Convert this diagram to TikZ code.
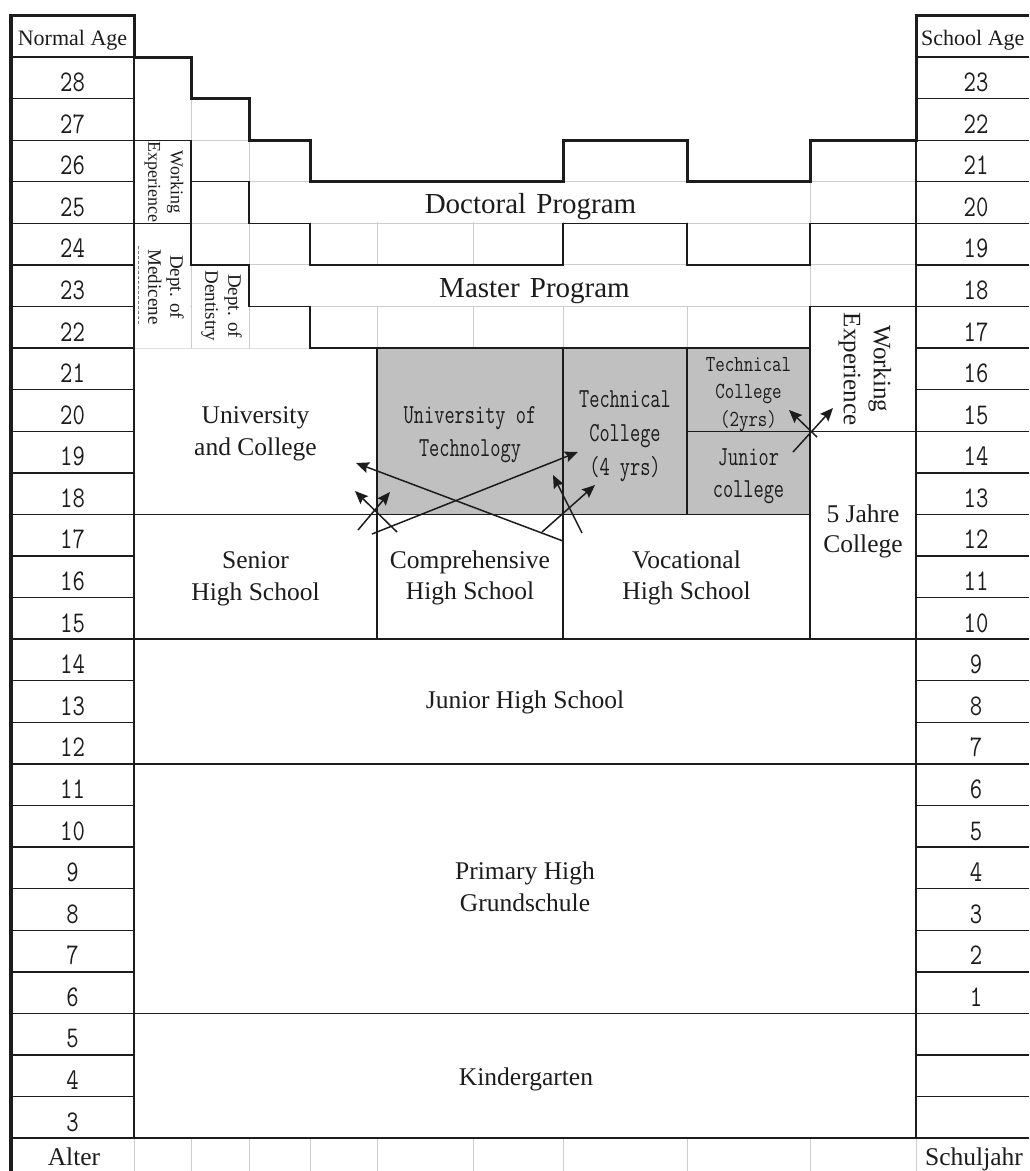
\documentclass[tikz,border=0pt]{standalone}
\usepackage{fontspec}
\setmainfont{Liberation Serif}
\newfontfamily\digitfont[FakeStretch=0.8]{Latin Modern Mono}
\newfontfamily\boxfont[FakeStretch=0.72]{Latin Modern Mono}
\newfontfamily\smallboxfont[FakeStretch=0.8]{Latin Modern Mono}
\usetikzlibrary{arrows.meta}
\definecolor{shadegray}{RGB}{192,192,192}
\definecolor{gridgray}{RGB}{205,205,205}
\definecolor{ink}{RGB}{28,28,28}
\begin{document}
\begin{tikzpicture}[x=1pt,y=-1pt,
  every node/.style={inner sep=0pt, text=ink},
  gridline/.style={draw=gridgray, line width=0.9pt},
  darkline/.style={draw=ink, line width=1.4pt},
  boldline/.style={draw=ink, line width=3pt},
  agenum/.style={anchor=base, font=\digitfont\fontsize{30}{30}\selectfont},
  seriftext/.style={anchor=base, font=\fontsize{25.5}{30}\selectfont},
  headtext/.style={font=\fontsize{22}{24}\selectfont},
  progtext/.style={anchor=base, font=\fontsize{29}{32}\selectfont},
  monotext/.style={anchor=base, font=\boxfont\fontsize{27.5}{32}\selectfont},
  smallmono/.style={anchor=base, font=\smallboxfont\fontsize{23}{28}\selectfont},
  vertlabel/.style={rotate=-90, align=center},
  crossarrow/.style={draw=ink, line width=1.5pt, -{Stealth[length=13pt,width=11pt,inset=2pt]}}
]
\useasboundingbox (0,0) rectangle (1029,1171);
\def\rowys{57,98.6,140.2,181.7,223.3,264.9,306.5,348.1,389.6,431.2,472.8,514.4,556,597.5,639.1,680.7,722.3,763.9,805.4,847,888.6,930.2,971.8,1013.3,1054.9,1096.5,1138.1}

% shaded technical area
\fill[shadegray] (377,348.1) rectangle (810,514.4);

% light grid in the graduate region, below the staircase
\begin{scope}
  \clip (134,57) -- (191,57) -- (191,98.6) -- (249,98.6) -- (249,140.2) -- (310,140.2)
        -- (310,181.7) -- (563,181.7) -- (563,140.2) -- (687,140.2) -- (687,181.7)
        -- (810,181.7) -- (810,140.2) -- (916,140.2) -- (916,348.6) -- (134,348.6) -- cycle;
  \foreach \xx in {134,191,249,310,377,473,563,687,810,916}
    \draw[gridline] (\xx,50) -- (\xx,348.6);
  \foreach \yy in {57,98.6,140.2,181.7,223.3,264.9,306.5,348.1}
    \draw[gridline] (130,\yy) -- (920,\yy);
\end{scope}
% merged cells (no inner grid)
\fill[white] (135,58) rectangle (190,139.2);
\fill[white] (135,141.2) rectangle (190,222.3);
\fill[white] (135,224.3) rectangle (190,347.1);
\fill[white] (192,265.9) rectangle (248,347.1);
\fill[white] (250,182.7) rectangle (809,222.3);
\fill[white] (250,265.9) rectangle (809,305.5);
\fill[white] (811,307.5) rectangle (915,348.6);

% light grid in the bottom row
\foreach \xx in {134,191,249,310,377,473,563,687,810,916}
  \draw[gridline] (\xx,1138.1) -- (\xx,1171);

% dark lines
\draw[darkline] (134,140.2) -- (191,140.2) -- (191,181.7) -- (249,181.7) -- (249,223.3)
  -- (310,223.3) -- (310,264.9) -- (563,264.9) -- (563,223.3) -- (687,223.3) -- (687,264.9)
  -- (810,264.9) -- (810,223.3) -- (916,223.3);
\draw[darkline] (191,181.7) -- (191,223.3);
\draw[darkline] (134,223.3) -- (191,223.3) -- (191,264.9) -- (249,264.9) -- (249,306.5)
  -- (310,306.5) -- (310,348.1) -- (810,348.1) -- (810,306.5) -- (916,306.5);
\draw[darkline] (377,348.1) -- (377,639.1);
\draw[darkline] (563,348.1) -- (563,639.1);
\draw[darkline] (687,348.1) -- (687,514.4);
\draw[darkline] (687,431.2) -- (916,431.2);
\draw[darkline] (810,306.5) -- (810,639.1);
\draw[darkline] (134,514.4) -- (810,514.4);
\draw[darkline] (134,639.1) -- (916,639.1);
\draw[darkline] (134,763.9) -- (916,763.9);
\draw[darkline] (134,1013.3) -- (916,1013.3);
\draw[darkline] (11,1138.1) -- (1029,1138.1);
\draw[darkline] (134,57) -- (134,1138.1);
\draw[darkline] (916,140) -- (916,1138.1);
\foreach \yy in \rowys {
  \draw[darkline] (11,\yy) -- (134,\yy);
  \draw[darkline] (916,\yy) -- (1029,\yy);
}

% bold outlines
\draw[boldline] (134,57) -- (191,57) -- (191,98.6) -- (249,98.6) -- (249,140.2) -- (310,140.2)
  -- (310,181.7) -- (563,181.7) -- (563,140.2) -- (687,140.2) -- (687,181.7)
  -- (810,181.7) -- (810,140.2) -- (916,140.2) -- (916,15) -- (1029,15);
\draw[boldline] (11,15) -- (134,15) -- (134,57);
\draw[draw=ink, line width=4pt] (11,13.5) -- (11,1171);

% small dashed mark left of "Medicene"
\draw[draw=gridgray!60!black, line width=0.6pt, dash pattern=on 3pt off 2pt] (138,246) -- (138,325);

% age columns
\foreach \k in {0,...,25} {
  \pgfmathsetmacro\yb{57+41.58*(\k+1)-7}
  \pgfmathtruncatemacro\age{28-\k}
  \node[agenum] (age\k) at (72.5,\yb) {\age};
  \ifnum\k<23
    \pgfmathtruncatemacro\sage{23-\k}
    \node[agenum] (sch\k) at (976,\yb) {\sage};
  \fi
}

% headers
\node[headtext, anchor=base] (normalage) at (72.5,45) {Normal Age};
\node[headtext, anchor=base west] (schoolage) at (921,45) {School Age};
\node[seriftext] (alter) at (74,1165) {Alter};
\node[seriftext, anchor=base west] (schuljahr) at (925,1165) {Schuljahr};

% programs
\node[progtext] (doctoral) at (530.5,213) {Doctoral\hspace{0.35em}Program};
\node[progtext] (master) at (534.5,297) {Master\hspace{0.35em}Program};

% vertical labels
\node[vertlabel, font=\fontsize{18}{22.5}\selectfont] (workexpA) at (164,182) {Working\\Experience};
\node[vertlabel, font=\fontsize{19}{22}\selectfont] (medicine) at (166,287) {Dept. of\\Medicene};
\node[vertlabel, font=\fontsize{19}{23}\selectfont] (dentistry) at (221.5,306) {Dept. of\\Dentistry};
\node[vertlabel, font=\fontsize{25}{30}\selectfont] (workexpB) at (865,369) {Working\\Experience};

% serif labels
\node[seriftext] (uc1) at (255.5,423) {University};
\node[seriftext] (uc2) at (255.5,455) {and College};
\node[seriftext] (sh1) at (255.5,568) {Senior};
\node[seriftext] (sh2) at (255.5,600) {High School};
\node[seriftext] (ch1) at (470,568) {Comprehensive};
\node[seriftext] (ch2) at (470,599) {High School};
\node[seriftext] (vh1) at (686.5,568) {Vocational};
\node[seriftext] (vh2) at (686.5,599) {High School};
\node[seriftext] (fj1) at (863,522) {5 Jahre};
\node[seriftext] (fj2) at (863,552) {College};
\node[seriftext] (jhs) at (525,708) {Junior High School};
\node[seriftext] (pr1) at (525,879) {Primary High};
\node[seriftext] (pr2) at (525,911) {Grundschule};
\node[seriftext] (kg) at (526,1085) {Kindergarten};

% shaded box labels
\node[monotext] (ut1) at (470,423) {University of};
\node[monotext] (ut2) at (470,456) {Technology};
\node[monotext] (tc1) at (625,407) {Technical};
\node[monotext] (tc2) at (625,441) {College};
\node[monotext] (tc3) at (625,475) {(4 yrs)};
\node[smallmono] (tt1) at (748.5,371) {Technical};
\node[smallmono] (tt2) at (748.5,398) {College};
\node[smallmono] (tt3) at (748.5,426) {(2yrs)};
\node[monotext] (jc1) at (748.5,465) {Junior};
\node[monotext] (jc2) at (748.5,497) {college};

% arrows
\coordinate (a1s) at (563,541); \coordinate (a1e) at (356,463);
\coordinate (a2s) at (372,534); \coordinate (a2e) at (578,452);
\coordinate (a3s) at (358,530); \coordinate (a3e) at (390,492);
\coordinate (a4s) at (397,532); \coordinate (a4e) at (355,491);
\coordinate (a5s) at (542,532); \coordinate (a5e) at (595,485);
\coordinate (a6s) at (582,533); \coordinate (a6e) at (553,475);
\coordinate (a7s) at (793,452); \coordinate (a7e) at (833,408);
\coordinate (a8s) at (817,437); \coordinate (a8e) at (789,410);
\foreach \i in {1,...,8}
  \draw[crossarrow] (a\i s) -- (a\i e);
\end{tikzpicture}
\end{document}
